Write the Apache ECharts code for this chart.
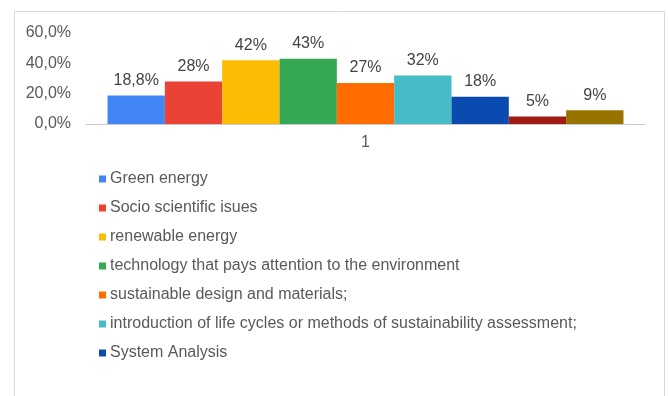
<!DOCTYPE html>
<html>
<head>
<meta charset="utf-8">
<script src="https://cdn.jsdelivr.net/npm/echarts@6/dist/echarts.min.js"></script>
<style>html,body{margin:0;padding:0;background:#fff}#c{width:668px;height:396px}</style>
</head>
<body>
<div id="c"></div>
<script>
const categories = ['1'];
const seriesNames = [
  'Green energy',
  'Socio scientific isues',
  'renewable energy',
  'technology that pays attention to the environment',
  'sustainable design and materials;',
  'introduction of life cycles or methods of sustainability assessment;',
  'System Analysis',
  'Series 8',
  'Series 9'
];
const seriesValues = [18.8, 28, 42, 43, 27, 32, 18, 5, 9];
const valueLabels = ['18,8%', '28%', '42%', '43%', '27%', '32%', '18%', '5%', '9%'];
const seriesColors = ['#4285F4', '#EA4335', '#FBBC04', '#34A853', '#FF6D01', '#46BDC6', '#0B4BB0', '#A01C12', '#997300'];
const legendShown = seriesNames.slice(0, 7);
const yTicks = { min: 0, max: 60, interval: 20 };

const chart = echarts.init(document.getElementById('c'), null, { renderer: 'canvas' });
const font = 'Liberation Sans, Arial, sans-serif';

const series = seriesNames.map((name, i) => ({
  name: name,
  type: 'bar',
  data: [seriesValues[i]],
  itemStyle: { color: seriesColors[i] },
  barGap: '0%',
  barCategoryGap: '7.7%',
  label: {
    show: true,
    position: 'top',
    distance: 7,
    formatter: () => valueLabels[i],
    color: '#444',
    fontSize: 16,
    fontFamily: font
  }
}));

chart.setOption({
  animation: false,
  backgroundColor: '#fff',
  graphic: [{
    type: 'rect',
    shape: { x: 14.5, y: 11.5, width: 650, height: 400 },
    style: { fill: 'none', stroke: '#d9d9d9', lineWidth: 1 },
    silent: true
  }],
  grid: { left: 86, right: 23, top: 33, bottom: 272, containLabel: false },
  xAxis: {
    type: 'category',
    data: categories,
    axisLine: { show: true, lineStyle: { color: '#cccccc', width: 1 } },
    axisTick: { show: false },
    axisLabel: { color: '#595959', fontSize: 16, fontFamily: font, margin: 11 }
  },
  yAxis: {
    type: 'value',
    min: yTicks.min,
    max: yTicks.max,
    interval: yTicks.interval,
    splitLine: { show: false },
    axisLine: { show: false },
    axisTick: { show: false },
    axisLabel: {
      color: '#595959',
      fontSize: 16,
      fontFamily: font,
      margin: 15,
      formatter: v => v.toFixed(1).replace('.', ',') + '%'
    }
  },
  legend: {
    data: legendShown,
    orient: 'vertical',
    left: 94,
    top: 166,
    itemWidth: 7,
    itemHeight: 7,
    itemGap: 13,
    icon: 'rect',
    textStyle: { color: '#595959', fontSize: 16, fontFamily: font, padding: [0, 0, 0, -1] }
  },
  series: series
});
</script>
</body>
</html>
